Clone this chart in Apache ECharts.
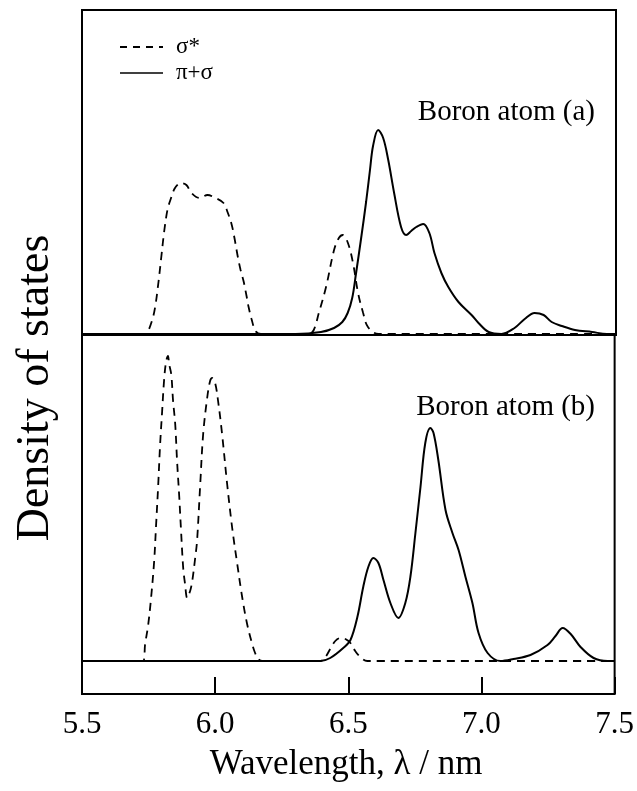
<!DOCTYPE html>
<html>
<head>
<meta charset="utf-8">
<script src="https://cdn.jsdelivr.net/npm/echarts@6/dist/echarts.min.js"></script>
<style>
  html, body { margin: 0; padding: 0; background: #fff; }
  #chart { width: 637px; height: 791px; }
</style>
</head>
<body>
<div id="chart"></div>
<script>
// Wavelength axis (nm)
const xTicks = [5.5, 6.0, 6.5, 7.0, 7.5];

// Panel (a): sigma* density of states  [wavelength, density]
const sigmaA = [
  [5.50, 0], [5.735, 0], [5.744, 0.01], [5.763, 0.14], [5.774, 0.27], [5.786, 0.51],
  [5.797, 0.77], [5.808, 1.03], [5.820, 1.24], [5.831, 1.34], [5.846, 1.45],
  [5.861, 1.50], [5.872, 1.51], [5.891, 1.49], [5.910, 1.41], [5.940, 1.36],
  [5.970, 1.39], [6.000, 1.36], [6.030, 1.31], [6.045, 1.22], [6.060, 1.10],
  [6.071, 0.96], [6.083, 0.78], [6.094, 0.64], [6.105, 0.53], [6.117, 0.37],
  [6.124, 0.27], [6.135, 0.15], [6.150, 0.03], [6.17, 0],
  [6.35, 0], [6.368, 0.04], [6.387, 0.21], [6.414, 0.47], [6.444, 0.84],
  [6.462, 0.96], [6.477, 0.99], [6.496, 0.91], [6.515, 0.71], [6.534, 0.41],
  [6.553, 0.21], [6.571, 0.07], [6.61, 0], [7.50, 0]
];

// Panel (a): pi+sigma density of states
const piA = [
  [5.50, 0], [6.30, 0], [6.395, 0.02], [6.444, 0.06], [6.475, 0.12], [6.495, 0.21],
  [6.512, 0.36], [6.526, 0.60], [6.545, 0.95], [6.564, 1.32], [6.579, 1.65], [6.590, 1.88],
  [6.609, 2.04], [6.628, 1.96], [6.647, 1.74], [6.669, 1.41], [6.695, 1.07],
  [6.714, 0.99], [6.733, 1.03], [6.752, 1.07], [6.778, 1.10], [6.801, 1.01],
  [6.820, 0.81], [6.846, 0.61], [6.872, 0.47], [6.910, 0.32], [6.959, 0.19],
  [6.985, 0.11], [7.023, 0.02], [7.071, 0], [7.120, 0.06], [7.158, 0.15],
  [7.195, 0.21], [7.229, 0.19], [7.259, 0.12], [7.297, 0.08], [7.346, 0.04],
  [7.410, 0.02], [7.466, 0], [7.50, 0]
];

// Panel (b): sigma* density of states
const sigmaB = [
  [5.50, 0], [5.729, 0], [5.737, 0.17], [5.748, 0.35], [5.759, 0.62], [5.771, 1.00],
  [5.778, 1.35], [5.786, 1.75], [5.793, 2.15], [5.801, 2.50], [5.808, 2.80],
  [5.816, 3.00], [5.823, 3.05], [5.827, 2.97], [5.835, 2.87], [5.842, 2.60],
  [5.850, 2.37], [5.857, 2.00], [5.865, 1.65], [5.872, 1.30], [5.880, 0.93],
  [5.887, 0.77], [5.895, 0.63], [5.906, 0.70], [5.914, 0.80], [5.925, 1.03],
  [5.932, 1.20], [5.944, 1.77], [5.955, 2.27], [5.970, 2.63], [5.981, 2.80],
  [5.989, 2.83], [6.000, 2.78], [6.011, 2.60], [6.026, 2.27], [6.045, 1.77],
  [6.064, 1.33], [6.083, 0.97], [6.102, 0.63], [6.120, 0.37], [6.139, 0.17],
  [6.150, 0.08], [6.162, 0.02], [6.177, 0],
  [6.395, 0], [6.414, 0.04], [6.432, 0.12], [6.451, 0.20], [6.470, 0.23],
  [6.489, 0.22], [6.508, 0.18], [6.526, 0.10], [6.545, 0.04], [6.571, 0], [7.50, 0]
];

// Panel (b): pi+sigma density of states
const piB = [
  [5.50, 0], [6.395, 0], [6.432, 0.03], [6.481, 0.13], [6.508, 0.21], [6.534, 0.44],
  [6.556, 0.74], [6.575, 0.94], [6.594, 1.03], [6.613, 0.98], [6.632, 0.81],
  [6.658, 0.58], [6.688, 0.43], [6.714, 0.58], [6.733, 0.84], [6.752, 1.28],
  [6.771, 1.74], [6.789, 2.18], [6.808, 2.33], [6.820, 2.28], [6.838, 2.01],
  [6.865, 1.51], [6.891, 1.28], [6.914, 1.11], [6.940, 0.84], [6.966, 0.58],
  [6.989, 0.28], [7.023, 0.08], [7.071, 0], [7.120, 0.02], [7.184, 0.06],
  [7.248, 0.16], [7.278, 0.25], [7.305, 0.33], [7.335, 0.27], [7.372, 0.14],
  [7.421, 0.03], [7.474, 0], [7.50, 0]
];

const seriesNames = ['σ*', 'π+σ'];
const panelLabels = ['Boron atom (a)', 'Boron atom (b)'];
const xTitle = 'Wavelength, λ / nm';
const yTitle = 'Density of states';

const SERIF = '"Liberation Serif", "DejaVu Serif", serif';
const dashPattern = [8, 6];

const chart = echarts.init(document.getElementById('chart'), null, { renderer: 'canvas' });

function curve(name, data, idx, dashed) {
  return {
    name: name,
    type: 'line',
    xAxisIndex: idx,
    yAxisIndex: idx,
    data: data,
    showSymbol: false,
    smooth: 0.35,
    animation: false,
    silent: true,
    lineStyle: {
      color: '#000',
      width: dashed ? 1.8 : 2,
      type: dashed ? dashPattern : 'solid'
    }
  };
}

const xCommon = {
  type: 'value',
  min: 5.5,
  max: 7.5,
  interval: 0.5,
  splitLine: { show: false },
  axisLine: { show: false, onZero: false }
};

chart.setOption({
  backgroundColor: '#fff',
  animation: false,
  grid: [
    { left: 82, right: 21, top: 10, height: 325, show: true, borderColor: '#000', borderWidth: 2 },
    { left: 82, right: 21, top: 335, height: 359, show: true, borderColor: '#000', borderWidth: 2 }
  ],
  xAxis: [
    Object.assign({}, xCommon, {
      gridIndex: 0,
      axisTick: { show: false },
      axisLabel: { show: false }
    }),
    Object.assign({}, xCommon, {
      gridIndex: 1,
      axisTick: { show: true, inside: true, length: 17, lineStyle: { color: '#000', width: 2 } },
      axisLabel: {
        show: true,
        margin: 15,
        color: '#000',
        fontFamily: SERIF,
        fontSize: 31,
        formatter: function (v) { return xTicks.indexOf(v) >= 0 ? v.toFixed(1) : ''; }
      }
    })
  ],
  yAxis: [
    { type: 'value', gridIndex: 0, min: -0.01, max: 3.24, show: false },
    { type: 'value', gridIndex: 1, min: -0.33, max: 3.26, show: false }
  ],
  series: [
    curve(seriesNames[0], sigmaA, 0, true),
    curve(seriesNames[1], piA, 0, false),
    curve(seriesNames[0], sigmaB, 1, true),
    curve(seriesNames[1], piB, 1, false)
  ],
  graphic: [
    // key
    { type: 'line', shape: { x1: 120, y1: 47, x2: 163, y2: 47 },
      style: { stroke: '#000', lineWidth: 1.8, lineDash: [7, 6] } },
    { type: 'text', x: 176, y: 47, style: { text: seriesNames[0], font: '23px ' + SERIF, fill: '#000', textVerticalAlign: 'middle' } },
    { type: 'line', shape: { x1: 120, y1: 73, x2: 163, y2: 73 },
      style: { stroke: '#000', lineWidth: 1.6 } },
    { type: 'text', x: 176, y: 73, style: { text: seriesNames[1], font: '23px ' + SERIF, fill: '#000', textVerticalAlign: 'middle' } },
    // panel captions
    { type: 'text', x: 595, y: 112, style: { text: panelLabels[0], font: '29px ' + SERIF, fill: '#000', textAlign: 'right', textVerticalAlign: 'middle' } },
    { type: 'text', x: 595, y: 407, style: { text: panelLabels[1], font: '29px ' + SERIF, fill: '#000', textAlign: 'right', textVerticalAlign: 'middle' } },
    // axis titles
    { type: 'text', x: 346, y: 765, style: { text: xTitle, font: '35px ' + SERIF, fill: '#000', textAlign: 'center', textVerticalAlign: 'middle' } },
    { type: 'text', x: 36, y: 388, rotation: Math.PI / 2,
      style: { text: yTitle, font: '46px ' + SERIF, fill: '#000', textAlign: 'center', textVerticalAlign: 'middle' } }
  ]
});
</script>
</body>
</html>
